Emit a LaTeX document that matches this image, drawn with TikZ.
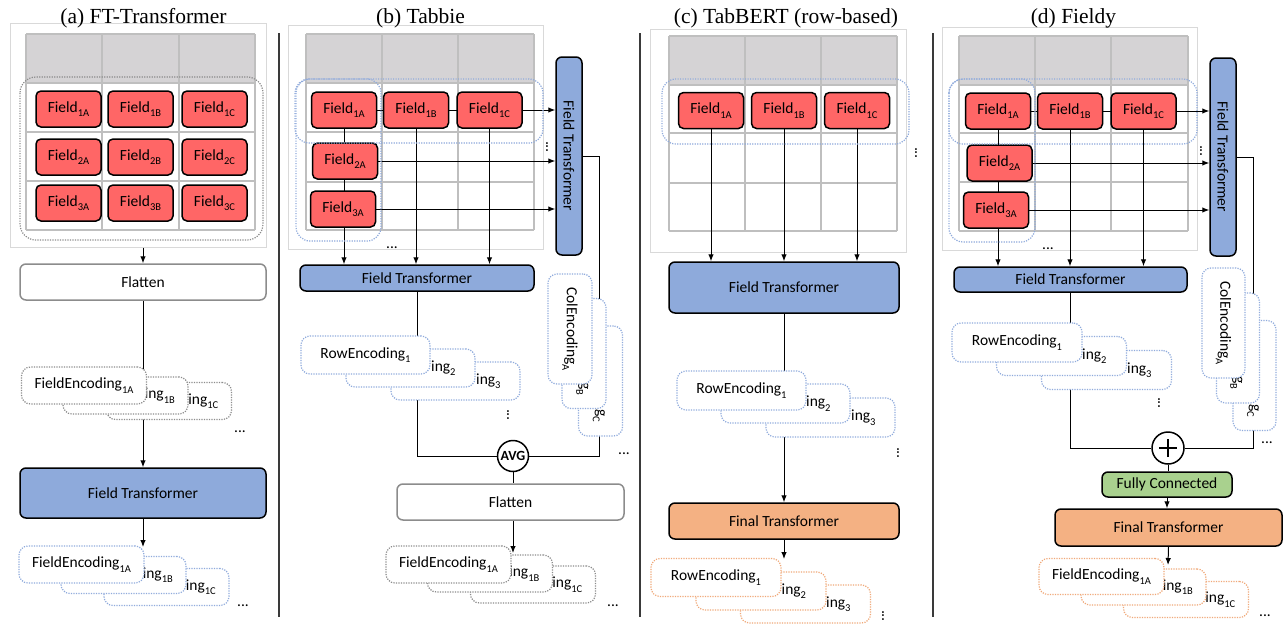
\documentclass[tikz,border=0pt]{standalone}
\usepackage{fontspec}
\newfontfamily\carlito{Carlito}
\newfontfamily\titlefont{Liberation Serif}
\usetikzlibrary{arrows.meta}
\pgfdeclarelayer{back}
\pgfdeclarelayer{bg}
\pgfsetlayers{back,bg,main}
\definecolor{redf}{HTML}{FF6666}
\definecolor{bluef}{HTML}{8EAADB}
\definecolor{orangef}{HTML}{F4B183}
\definecolor{greenf}{HTML}{A9D18E}
\definecolor{hdr}{HTML}{D5D3D5}
\definecolor{gridc}{HTML}{BFBFBF}
\definecolor{framec}{HTML}{D9D9D9}
\definecolor{dotgrey}{HTML}{8C8C8C}
\definecolor{dotblue}{HTML}{8FAADC}
\definecolor{dotorange}{HTML}{F0A878}
\definecolor{sepc}{HTML}{3A3A3A}
\newcommand\sub[1]{\raisebox{-0.28em}{\fontsize{10.5}{12}\selectfont #1}}
\newcommand\tabgrid[9]{%
  \fill[hdr] (#1,#5) rectangle (#4,#6);
  \foreach \gx in {#1,#2,#3,#4} \draw[gridline] (\gx,#5) -- (\gx,#9);
  \foreach \gy in {#5,#6,#7,#8,#9} \draw[gridline] (#1,\gy) -- (#4,\gy);}
\begin{document}
\begin{tikzpicture}[x=1pt,y=-1pt,
  font=\carlito\fontsize{15.5}{18}\selectfont,
  box/.style={inner sep=0pt, rounded corners=6pt},
  frame/.style={inner sep=0pt, draw=framec, fill=white, line width=1pt},
  gridline/.style={draw=gridc, line width=1.2pt},
  redbox/.style={box, rounded corners=5pt, fill=redf, draw=black, line width=1.5pt, minimum width=65pt, minimum height=36pt},
  bluebox/.style={box, fill=bluef, draw=black, line width=1.5pt},
  orbox/.style={box, fill=orangef, draw=black, line width=1.5pt},
  grbox/.style={box, fill=greenf, draw=black, line width=1.5pt},
  flatbox/.style={box, fill=white, draw=dotgrey, line width=1.5pt, minimum height=36pt},
  encdot/.style={box, fill=white, line width=1.2pt, dash pattern=on 1.2pt off 1.3pt, rounded corners=9pt},
  grayenc/.style={encdot, draw=dotgrey, minimum width=125pt, minimum height=37pt},
  blueenc/.style={encdot, draw=dotblue, minimum width=125pt, minimum height=37pt},
  orangeenc/.style={encdot, draw=dotorange, minimum width=125pt, minimum height=37pt},
  rowblue/.style={encdot, draw=dotblue, minimum width=129pt, minimum height=38pt},
  roworange/.style={encdot, draw=dotorange, minimum width=130pt, minimum height=38pt},
  colblue/.style={encdot, draw=dotblue, minimum width=44pt, minimum height=110pt},
  bluegroup/.style={draw=dotblue, line width=1.2pt, dash pattern=on 1.2pt off 1.3pt, rounded corners=14pt},
  greygroup/.style={draw=dotgrey, line width=1.2pt, dash pattern=on 1.2pt off 1.3pt, rounded corners=16pt},
  circ/.style={circle, draw=black, fill=white, line width=1.5pt, minimum size=31pt, inner sep=0pt},
  title/.style={font=\titlefont\fontsize{21.5}{25}\selectfont},
  dotsn/.style={inner sep=0pt},
  conn/.style={draw=black, line width=1pt},
  arr/.style={conn, -{Latex[length=7pt,width=5.5pt]}},
  sepline/.style={draw=sepc, line width=1.5pt}
]
\useasboundingbox (0,0) rectangle (1285,624);
\begin{pgfonlayer}{back}
\fill[white] (0,0) rectangle (1285,624);
\node[frame, minimum width=256pt, minimum height=224pt] (fa) at (138,135) {};
\node[frame, minimum width=255pt, minimum height=224pt] (fb) at (415.5,137) {};
\node[frame, minimum width=256pt, minimum height=223pt] (fc) at (778,140.5) {};
\node[frame, minimum width=255pt, minimum height=223pt] (fd) at (1069.5,138.5) {};
\tabgrid{26}{102}{179}{255}{34}{83}{132}{181}{230}
\tabgrid{306}{382}{458}{534}{34}{83}{132}{182}{230}
\tabgrid{669}{745}{821}{897}{36}{85}{133}{183}{231}
\tabgrid{959}{1035}{1111}{1188}{36}{85}{133}{182}{231}
\end{pgfonlayer}

% separators
\draw[sepline] (279,33) -- (279,617);
\draw[sepline] (640,33) -- (640,617);
\draw[sepline] (933,33) -- (933,617);

% titles
\node[title] (ta) at (143.5,18) {(a) FT-Transformer};
\node[title] (tb) at (420.5,18) {(b) Tabbie};
\node[title] (tc) at (786,18) {(c) TabBERT (row-based)};
\node[title] (td) at (1073.5,18) {(d) Fieldy};

% ---------------- panel (a)
\node[redbox] (a1a) at (68.5,109) {Field\sub{1A}};
\node[redbox] (a1b) at (140.5,109) {Field\sub{1B}};
\node[redbox] (a1c) at (214.5,109) {Field\sub{1C}};
\node[redbox] (a2a) at (68.5,157) {Field\sub{2A}};
\node[redbox] (a2b) at (140.5,157) {Field\sub{2B}};
\node[redbox] (a2c) at (214.5,157) {Field\sub{2C}};
\node[redbox] (a3a) at (68.5,203) {Field\sub{3A}};
\node[redbox] (a3b) at (140.5,203) {Field\sub{3B}};
\node[redbox] (a3c) at (214.5,203) {Field\sub{3C}};
\draw[greygroup] (20,77) rectangle (263,240);
\node[flatbox, minimum width=246pt] (fla) at (143,282) {Flatten};
\node[grayenc] (ag3) at (169,401) {\phantom{FieldEncod}ing\sub{1C}};
\node[grayenc] (ag2) at (125.5,395.5) {\phantom{FieldEncod}ing\sub{1B}};
\node[grayenc] (ag1) at (84,385.5) {FieldEncoding\sub{1A}};
\node[dotsn] (adots1) at (240,432) {...};
\node[bluebox, minimum width=246pt, minimum height=50pt] (fta) at (143,493) {Field Transformer};
\node[blueenc] (ab3) at (166.5,587) {\phantom{FieldEncod}ing\sub{1C}};
\node[blueenc] (ab2) at (123.5,575) {\phantom{FieldEncod}ing\sub{1B}};
\node[blueenc] (ab1) at (81.5,564.5) {FieldEncoding\sub{1A}};
\node[dotsn] (adots2) at (243,606) {...};
\coordinate (atip) at (143,547);

% ---------------- panel (b)
\node[redbox] (b1a) at (344,110) {Field\sub{1A}};
\node[redbox] (b1b) at (416,110) {Field\sub{1B}};
\node[redbox] (b1c) at (489.5,110) {Field\sub{1C}};
\node[redbox] (b2a) at (345,161) {Field\sub{2A}};
\node[redbox] (b3a) at (343,209) {Field\sub{3A}};
\draw[bluegroup] (295,79) rectangle (543,143);
\draw[bluegroup] (296,79) rectangle (381,241);
\node[bluebox, minimum width=26pt, minimum height=198pt] (vftb) at (569,156) {\rotatebox{-90}{Field Transformer}};
\node[dotsn, rotate=90] (bdots1) at (547,147) {...};
\node[dotsn] (bdots2) at (392,248) {...};
\node[bluebox, minimum width=234pt, minimum height=26pt] (hftb) at (417,278) {Field Transformer};
\node[colblue] (bcc) at (600.5,381) {\rotatebox{-90}{\phantom{ColEncodin}g\sub{C}}};
\node[colblue] (bcb) at (584,353.5) {\rotatebox{-90}{\phantom{ColEncodin}g\sub{B}}};
\node[colblue] (bca) at (570,329) {\rotatebox{-90}{ColEncoding\sub{A}}};
\node[rowblue] (br3) at (455.5,381) {\phantom{RowEncod}ing\sub{3}};
\node[rowblue] (br2) at (410.5,368) {\phantom{RowEncod}ing\sub{2}};
\node[rowblue] (br1) at (365.5,355) {RowEncoding\sub{1}};
\node[dotsn, rotate=90] (bdots3) at (508,415) {...};
\node[circ, font=\carlito\bfseries\fontsize{14}{16}\selectfont] (avg) at (513,456) {AVG};
\node[dotsn] (bdots4) at (624,454) {...};
\node[flatbox, minimum width=227pt] (flb) at (510.5,502) {Flatten};
\node[grayenc] (bg3) at (533,584.5) {\phantom{FieldEncod}ing\sub{1C}};
\node[grayenc] (bg2) at (490,573.5) {\phantom{FieldEncod}ing\sub{1B}};
\node[grayenc] (bg1) at (448.5,564.5) {FieldEncoding\sub{1A}};
\node[dotsn] (bdots5) at (613,606) {...};
\coordinate (bturn) at (599,156);
\coordinate (btip) at (513,553);

% ---------------- panel (c)
\node[redbox] (c1a) at (711,110.5) {Field\sub{1A}};
\node[redbox] (c1b) at (784,110.5) {Field\sub{1B}};
\node[redbox] (c1c) at (857,110.5) {Field\sub{1C}};
\draw[bluegroup] (662,79) rectangle (909,144);
\node[dotsn, rotate=90] (cdots1) at (916,153) {...};
\node[bluebox, minimum width=230pt, minimum height=51pt] (ftc) at (784,287.5) {Field Transformer};
\node[rowblue, minimum height=39pt] (cr3) at (830.5,417.5) {\phantom{RowEncod}ing\sub{3}};
\node[rowblue, minimum height=39pt] (cr2) at (785.5,403.5) {\phantom{RowEncod}ing\sub{2}};
\node[rowblue, minimum height=39pt] (cr1) at (741.5,390.5) {RowEncoding\sub{1}};
\node[dotsn, rotate=90] (cdots2) at (898,453) {...};
\node[orbox, minimum width=230pt, minimum height=36pt] (fnc) at (784,521) {Final Transformer};
\node[roworange] (co3) at (805.5,604) {\phantom{RowEncod}ing\sub{3}};
\node[roworange] (co2) at (761,591) {\phantom{RowEncod}ing\sub{2}};
\node[roworange] (co1) at (716,577.5) {RowEncoding\sub{1}};
\node[dotsn, rotate=90] (cdots3) at (883,616) {...};
\coordinate (ctip) at (784,559);

% ---------------- panel (d)
\node[redbox] (d1a) at (998,111) {Field\sub{1A}};
\node[redbox] (d1b) at (1070,111) {Field\sub{1B}};
\node[redbox] (d1c) at (1143.5,111) {Field\sub{1C}};
\node[redbox] (d2a) at (999.5,163) {Field\sub{2A}};
\node[redbox] (d3a) at (996,210) {Field\sub{3A}};
\draw[bluegroup] (949,79) rectangle (1197,144);
\draw[bluegroup] (949,79) rectangle (1035,242);
\node[bluebox, minimum width=26pt, minimum height=198pt] (vftd) at (1223,157) {\rotatebox{-90}{Field Transformer}};
\node[dotsn, rotate=90] (ddots1) at (1201,151) {...};
\node[dotsn] (ddots2) at (1048,249) {...};
\node[bluebox, minimum width=233pt, minimum height=25pt] (hftd) at (1070.5,279.5) {Field Transformer};
\node[colblue, minimum width=43pt] (dcc) at (1254.5,375.5) {\rotatebox{-90}{\phantom{ColEncodin}g\sub{C}}};
\node[colblue, minimum width=43pt] (dcb) at (1238,348) {\rotatebox{-90}{\phantom{ColEncodin}g\sub{B}}};
\node[colblue, minimum width=43pt] (dca) at (1223.5,323) {\rotatebox{-90}{ColEncoding\sub{A}}};
\node[rowblue, minimum width=130pt, minimum height=39pt] (dr3) at (1106.5,370) {\phantom{RowEncod}ing\sub{3}};
\node[rowblue, minimum width=130pt, minimum height=39pt] (dr2) at (1061.5,356) {\phantom{RowEncod}ing\sub{2}};
\node[rowblue, minimum width=130pt, minimum height=39pt] (dr1) at (1017,342.5) {RowEncoding\sub{1}};
\node[dotsn, rotate=90] (ddots3) at (1159,403) {...};
\node[circ, minimum size=32pt] (plus) at (1168,448) {};
\draw[line width=2.2pt] ([xshift=-9pt]plus.center) -- ([xshift=9pt]plus.center);
\draw[line width=2.2pt] ([yshift=-9pt]plus.center) -- ([yshift=9pt]plus.center);
\node[dotsn] (ddots4) at (1267,443) {...};
\node[grbox, minimum width=130pt, minimum height=25pt] (fcd) at (1167,484.5) {Fully Connected};
\node[orbox, minimum width=227pt, minimum height=37pt] (fnd) at (1168.5,527.5) {Final Transformer};
\node[orangeenc, minimum height=36pt] (do3) at (1186,599.5) {\phantom{FieldEncod}ing\sub{1C}};
\node[orangeenc, minimum height=36pt] (do2) at (1143.5,587) {\phantom{FieldEncod}ing\sub{1B}};
\node[orangeenc, minimum height=36pt] (do1) at (1101.5,576.5) {FieldEncoding\sub{1A}};
\node[dotsn] (ddots5) at (1265,616) {...};
\coordinate (dturn) at (1253,157);
\coordinate (dtip) at (1168,565);

% ---------------- connectors
\begin{pgfonlayer}{bg}
% (a)
\draw[arr] (fla.north |- fa.south) -- (fla.north);
\draw[arr] (fla.south) -- (fta.north);
\draw[arr] (fta.south) -- (atip);
% (b)
\draw[arr] (b1a.center) -- (b1a.center -| vftb.west);
\draw[arr] (b2a.east) -- (b2a.east -| vftb.west);
\draw[arr] (b3a.east) -- (b3a.east -| vftb.west);
\draw[arr] (b1a.center) -- (b1a.center |- hftb.north);
\draw[arr] (b1b.south) -- (b1b.south |- hftb.north);
\draw[arr] (b1c.south) -- (b1c.south |- hftb.north);
\draw[conn] (hftb.south) |- (avg.west);
\draw[conn] (vftb.east) -- (bturn) |- (avg.east);
\draw[conn] (avg.south) -- (avg.south |- flb.north);
\draw[arr] (avg.south |- flb.south) -- (btip);
% (c)
\draw[arr] (c1a.south) -- (c1a.south |- ftc.north);
\draw[arr] (c1b.south) -- (c1b.south |- ftc.north);
\draw[arr] (c1c.south) -- (c1c.south |- ftc.north);
\draw[arr] (ftc.south) -- (fnc.north);
\draw[arr] (fnc.south) -- (ctip);
% (d)
\draw[arr] (d1a.center) -- (d1a.center -| vftd.west);
\draw[arr] (d2a.east) -- (d2a.east -| vftd.west);
\draw[arr] (d3a.east) -- (d3a.east -| vftd.west);
\draw[arr] (d1a.center) -- (d1a.center |- hftd.north);
\draw[arr] (d1b.south) -- (d1b.south |- hftd.north);
\draw[arr] (d1c.south) -- (d1c.south |- hftd.north);
\draw[conn] (hftd.south) |- (plus.west);
\draw[conn] (vftd.east) -- (dturn) |- (plus.east);
\draw[conn] (plus.south) -- (plus.south |- fcd.north);
\draw[arr] (fcd.south) -- (fcd.south |- fnd.north);
\draw[arr] (fnd.south) -- (dtip);
\end{pgfonlayer}
\end{tikzpicture}
\end{document}
